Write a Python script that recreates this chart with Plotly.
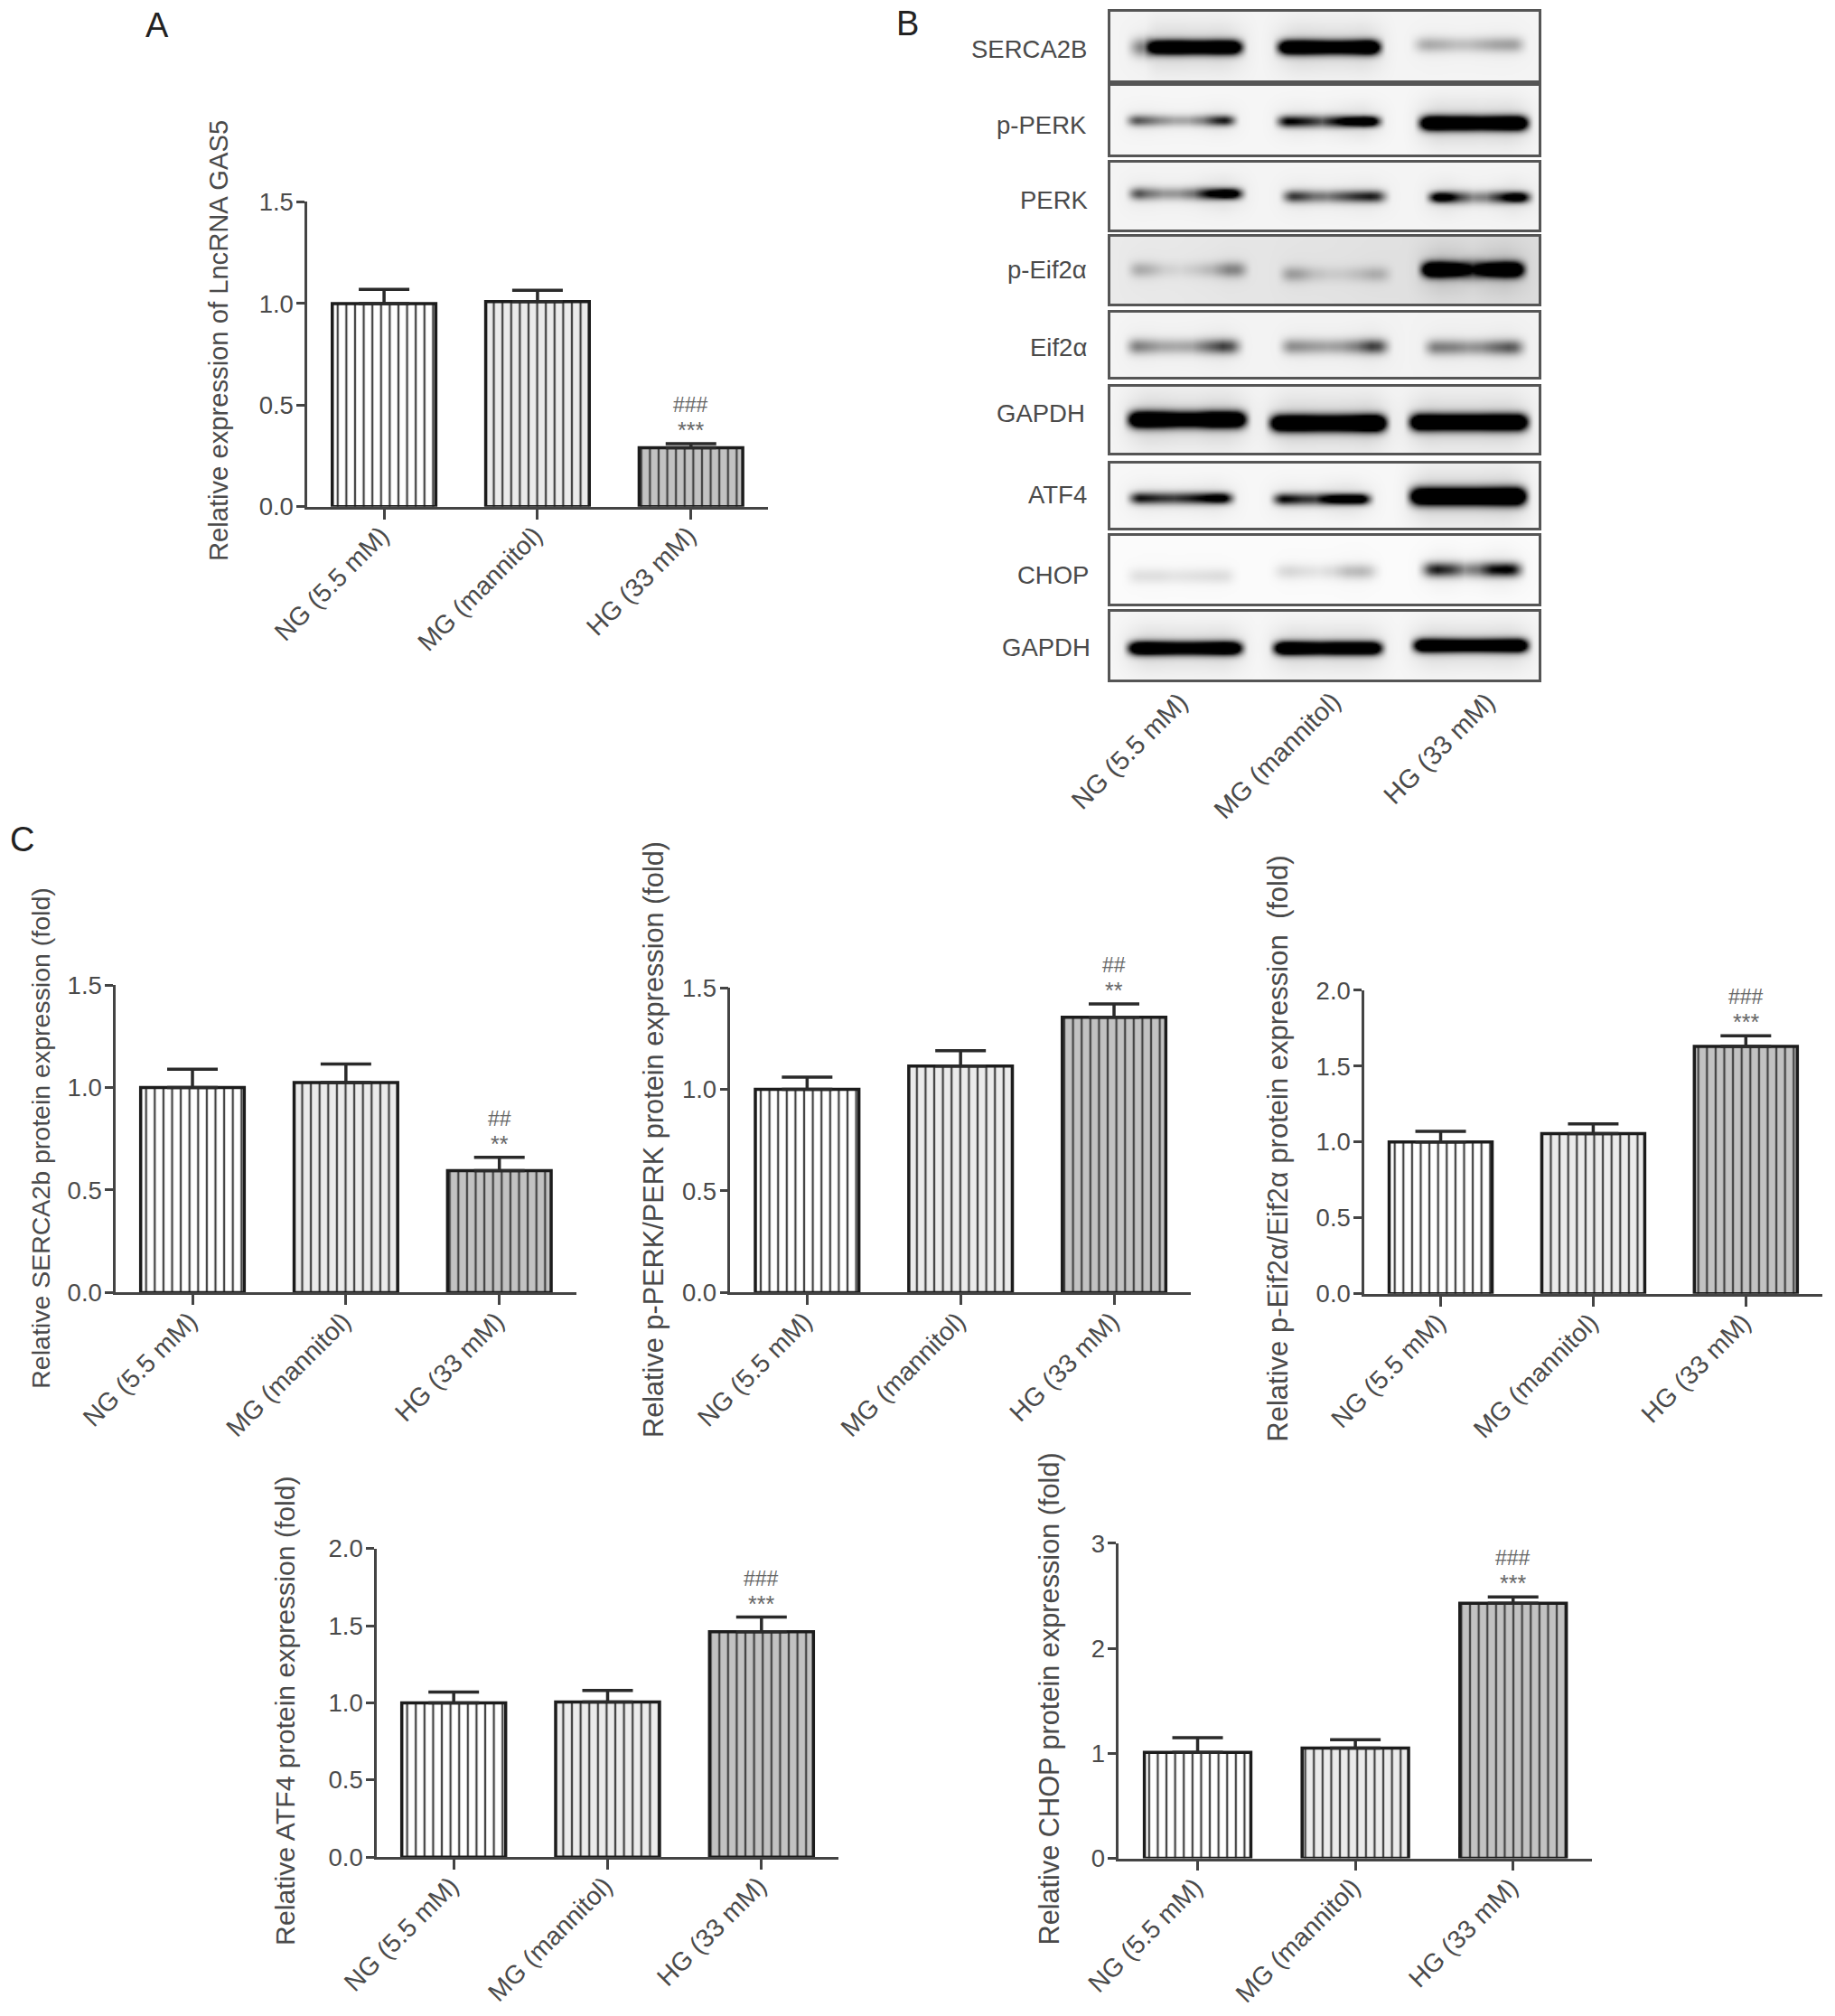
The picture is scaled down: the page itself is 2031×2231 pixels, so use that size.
import numpy as np
import plotly.graph_objects as go

W, H = 2031, 2231
S = 2031 / 1427  # the pixel boxes below were measured on the shrunk view

groups = ["NG (5.5 mM)", "MG (mannitol)", "HG (33 mM)"]
fills = ["#ffffff", "#ebebeb", "#c2c2c2"]

# ---- bar panels: means and top of error bar
a_vals = [1.0, 1.01, 0.29];      a_top = [1.07, 1.065, 0.31]
c1_vals = [1.0, 1.025, 0.595];   c1_top = [1.09, 1.115, 0.66]
c2_vals = [1.0, 1.115, 1.355];   c2_top = [1.06, 1.19, 1.42]
c3_vals = [1.0, 1.055, 1.63];    c3_top = [1.07, 1.12, 1.70]
c4_vals = [1.0, 1.005, 1.46];    c4_top = [1.07, 1.08, 1.555]
c5_vals = [1.01, 1.05, 2.43];    c5_top = [1.15, 1.13, 2.49]

bar_panels = [
    dict(v=a_vals, t=a_top, box=(239, 597, 394, 157), ymax=1.5, dt=0.5, fmt=".1f", sig=("###", "***"),
         title="Relative expression of LncRNA GAS5", tx=170, ty=265, fs=29.2),
    dict(v=c1_vals, t=c1_top, box=(90, 448, 1005, 766), ymax=1.5, dt=0.5, fmt=".1f", sig=("##", "**"),
         title="Relative SERCA2b protein expression (fold)", tx=31, ty=885, fs=28.5),
    dict(v=c2_vals, t=c2_top, box=(568, 926, 1005, 768), ymax=1.5, dt=0.5, fmt=".1f", sig=("##", "**"),
         title="Relative p-PERK/PERK protein expression (fold)", tx=508, ty=886, fs=30.7),
    dict(v=c3_vals, t=c3_top, box=(1061, 1417, 1006, 770), ymax=2.0, dt=0.5, fmt=".1f", sig=("###", "***"),
         title="Relative p-Eif2α/Eif2α protein expression  (fold)", tx=994, ty=893, fs=31),
    dict(v=c4_vals, t=c4_top, box=(293, 652, 1444, 1204), ymax=2.0, dt=0.5, fmt=".1f", sig=("###", "***"),
         title="Relative ATF4 protein expression (fold)", tx=222, ty=1330, fs=30.2),
    dict(v=c5_vals, t=c5_top, box=(870, 1238, 1445, 1200), ymax=3, dt=1, fmt="d", sig=("###", "***"),
         title="Relative CHOP protein expression (fold)", tx=816, ty=1321, fs=30.7),
]

# ---- blots: label, panel top/bottom, background grey, lanes
# each lane: x start, x end, band centre y, band sigma, darkness along the band
BLOT_L, BLOT_R = 1229, 1703
ZX = 2.294
blots = [
    ("SERCA2B", 1205, 55, 13, 89, (244, 244), [
        (465, 740, 52, 7, [.4, .45, 1.6, 1.7, 1.7, 1.6, 1.6, 1.7, 1.7, 1.6]),
        (840, 1090, 52, 7, [1.6, 1.7, 1.7, 1.6, 1.5, 1.5, 1.6, 1.8, 1.8]),
        (1185, 1455, 49, 6, [.22, .28, .25, .2, .2, .25, .3, .32, .3])]),
    ("p-PERK", 1205, 139, 95, 171, (246, 246), [
        (460, 720, 133, 4.5, [.7, .55, .4, .3, .3, .45, .8, .95]),
        (840, 1090, 134, 5, [1.0, .95, .8, .6, .9, 1.3, 1.6, 1.3]),
        (1200, 1465, 136, 7, [1.7, 1.8, 1.7, 1.7, 1.6, 1.7, 1.8, 1.8])]),
    ("PERK", 1207, 221, 180, 254, (244, 244), [
        (465, 740, 214, 5, [.75, .5, .35, .35, .5, 1.0, 1.4, 1.2]),
        (855, 1105, 217, 5, [.8, .7, .5, .45, .6, .75, .85, .7]),
        (1225, 1470, 218, 5, [1.3, 1.2, .7, .4, .45, .8, 1.3, 1.2])]),
    ("p-Eif2α", 1205, 298, 262, 336, (234, 220), [
        (465, 750, 298, 6, [.28, .22, .1, .07, .12, .2, .4, .4]),
        (850, 1115, 303, 6, [.32, .28, .15, .1, .1, .15, .22, .2]),
        (1205, 1455, 298, 7.5, [1.8, 1.9, 1.6, .95, 1.6, 1.9, 1.8])]),
    ("Eif2α", 1205, 385, 346, 417, (244, 242), [
        (460, 735, 383, 6, [.5, .4, .3, .28, .3, .5, .7, .55]),
        (850, 1110, 383, 6, [.4, .38, .33, .3, .33, .45, .7, .6]),
        (1215, 1455, 384, 6, [.45, .45, .42, .35, .38, .5, .6, .5])]),
    ("GAPDH", 1203, 458, 428, 501, (244, 244), [
        (460, 750, 464, 8, [1.7, 1.8, 1.7, 1.5, 1.5, 1.8, 1.8, 1.7]),
        (820, 1105, 468, 8, [1.7, 1.8, 1.8, 1.7, 1.7, 1.8, 2.0, 2.0]),
        (1175, 1465, 467, 8, [1.8, 1.8, 1.7, 1.7, 1.7, 1.8, 1.8, 1.8])]),
    ("ATF4", 1205, 547, 513, 584, (247, 247), [
        (465, 715, 551, 5, [.95, .85, .75, .7, .8, .95, 1.2, 1.1]),
        (830, 1065, 552, 5, [1.0, .9, .75, .7, 1.1, 1.4, 1.4, 1.2]),
        (1175, 1460, 549, 8.5, [1.7, 1.8, 1.8, 1.8, 1.8, 1.9, 2.0, 2.0])]),
    ("CHOP", 1207, 636, 593, 668, (251, 251), [
        (460, 720, 637, 6, [.1, .1, .1, .08, .09, .1, .11, .1]),
        (830, 1085, 632, 6, [.1, .13, .1, .08, .12, .22, .24, .15]),
        (1205, 1450, 630, 6, [.6, .85, .7, .4, .5, .9, 1.0, .8])]),
    ("GAPDH", 1209, 716, 677, 752, (246, 246), [
        (460, 740, 717, 6.5, [1.6, 1.7, 1.6, 1.5, 1.5, 1.6, 1.7, 1.6]),
        (830, 1095, 717, 6.5, [1.7, 1.7, 1.6, 1.5, 1.6, 1.6, 1.6, 1.6]),
        (1185, 1465, 714, 6.5, [1.7, 1.7, 1.6, 1.5, 1.5, 1.6, 1.7, 1.8])]),
]

panel_letters = [("A", 122, 20), ("B", 706, 18), ("C", 17, 653)]
blot_tick_anchor = [(930, 532), (1049, 532), (1169, 532)]

TXT = "#4a4a4a"
FONT = "Liberation Sans, Arial, sans-serif"
FS = 27.5
FX = 28.5

fig = go.Figure()
layout = {}
ann = []


def px(x):
    return x / W


def py(y):
    return 1 - y / H


def add_text(text, x, y, size=FS, angle=0, xa="center", ya="middle", color=TXT):
    ann.append(dict(text=text, x=px(x), y=py(y), xref="paper", yref="paper", showarrow=False,
                    xanchor=xa, yanchor=ya, textangle=angle, font=dict(family=FONT, size=size, color=color)))


n = 0
for p in bar_panels:
    n += 1
    suffix = "" if n == 1 else str(n)
    x0, x1, yb, yt = [c * S for c in p["box"]]
    err_plus = [t - v for t, v in zip(p["t"], p["v"])]
    fig.add_trace(go.Bar(
        x=groups, y=p["v"], width=0.675, xaxis="x" + suffix, yaxis="y" + suffix, showlegend=False,
        marker=dict(color=fills, line=dict(color="#1c1c1c", width=3.5),
                    pattern=dict(shape="|", size=9.6, solidity=0.24, fgcolor="#858585", fgopacity=1, fillmode="overlay")),
        error_y=dict(type="data", symmetric=False, array=err_plus, arrayminus=[0, 0, 0],
                     color="#2a2a2a", thickness=3.5, width=28),
    ))
    layout["xaxis" + suffix] = dict(
        domain=[px(x0), px(x1)], anchor="y" + suffix, type="category", range=[-0.5, 2.5],
        showline=True, linecolor="#444", linewidth=2.5, ticks="outside", ticklen=11, tickwidth=2.5, tickcolor="#444",
        tickangle=-45, ticklabelstandoff=-10, ticklabelshift=-3,
        tickfont=dict(family=FONT, size=FX, color=TXT), showgrid=False, zeroline=False)
    ticks = list(np.arange(0, p["ymax"] + 1e-9, p["dt"]))
    layout["yaxis" + suffix] = dict(
        domain=[py(yb), py(yt)], anchor="x" + suffix, range=[0, p["ymax"]], tickmode="array", tickvals=ticks,
        tickformat=p["fmt"], showline=True, linecolor="#444", linewidth=2.5, ticks="outside", ticklen=9,
        ticklabelstandoff=-2,
        tickwidth=2.5, tickcolor="#444", tickfont=dict(family=FONT, size=FS, color=TXT), showgrid=False, zeroline=False)
    add_text(p["title"], p["tx"] * S, p["ty"] * S, size=p["fs"], angle=-90)
    for txt, shift, sz in ((p["sig"][0], 43, 23), (p["sig"][1], 15, 25)):
        ann.append(dict(text=txt, x=groups[2], y=p["t"][2], xref="x" + suffix, yref="y" + suffix, showarrow=False,
                        xanchor="center", yanchor="middle", yshift=shift,
                        font=dict(family=FONT, size=sz, color="#666")))

for label, lx, ly, top, bot, bg, lanes in blots:
    n += 1
    suffix = str(n)
    xs = np.arange(BLOT_L, BLOT_R + 2, 2.0)
    ys = np.arange(top, bot + 2, 2.0)
    XX, YY = np.meshgrid(xs, ys)
    dark = np.zeros_like(XX)
    for xa, xb, yc, sig, prof in lanes:
        a = 1050 + xa / ZX
        b = 1050 + xb / ZX
        pts = np.linspace(a, b, len(prof))
        amp = np.interp(XX, pts, prof)
        edge = np.clip((XX - a + 10) / 20, 0, 1) * np.clip((b - XX + 10) / 20, 0, 1)
        edge = edge * edge * (3 - 2 * edge)
        halo = np.clip((XX - a + 24) / 48, 0, 1) * np.clip((b - XX + 24) / 48, 0, 1)
        halo = halo * halo * (3 - 2 * halo)
        d = YY - yc
        s_eff = sig * (1 - 0.22 * np.clip(amp - 0.5, 0, 1))
        dark += amp * (edge * np.exp(-0.5 * (d / s_eff) ** 2) + 0.08 * halo * np.exp(-0.5 * (d / (sig * 2.6)) ** 2))
    base = np.interp(XX, [BLOT_L, BLOT_R], bg)
    z = base * (1 - np.clip(dark, 0, 1))
    fig.add_trace(go.Heatmap(x=xs, y=ys, z=np.round(z, 1).tolist(), zmin=0, zmax=255, zsmooth="best",
                             colorscale=[[0, "#000000"], [1, "#ffffff"]], showscale=False, hoverinfo="skip",
                             xaxis="x" + suffix, yaxis="y" + suffix))
    layout["xaxis" + suffix] = dict(domain=[px(BLOT_L), px(BLOT_R)], anchor="y" + suffix, range=[BLOT_L, BLOT_R],
                                    showticklabels=False, ticks="", showgrid=False, zeroline=False, showline=True,
                                    mirror=True, linecolor="#555", linewidth=2.5)
    layout["yaxis" + suffix] = dict(domain=[py(bot), py(top)], anchor="x" + suffix, range=[bot, top],
                                    showticklabels=False, ticks="", showgrid=False, zeroline=False, showline=True,
                                    mirror=True, linecolor="#555", linewidth=2.5)
    add_text(label, lx, ly, xa="right")

for g, (ax, ay) in zip(groups, blot_tick_anchor):
    add_text(g, ax * S, ay * S, size=FX + 0.5, angle=-45, xa="right", ya="top")

for letter, lx, ly in panel_letters:
    add_text(letter, lx * S, ly * S, size=38, color="#222")

fig.update_layout(width=W, height=H, margin=dict(l=0, r=0, t=0, b=0, autoexpand=False), paper_bgcolor="white",
                  plot_bgcolor="white", showlegend=False, annotations=ann, **layout)
fig.write_html("out.html", config=dict(displayModeBar=False),
               post_script="document.body.style.margin='0';")
